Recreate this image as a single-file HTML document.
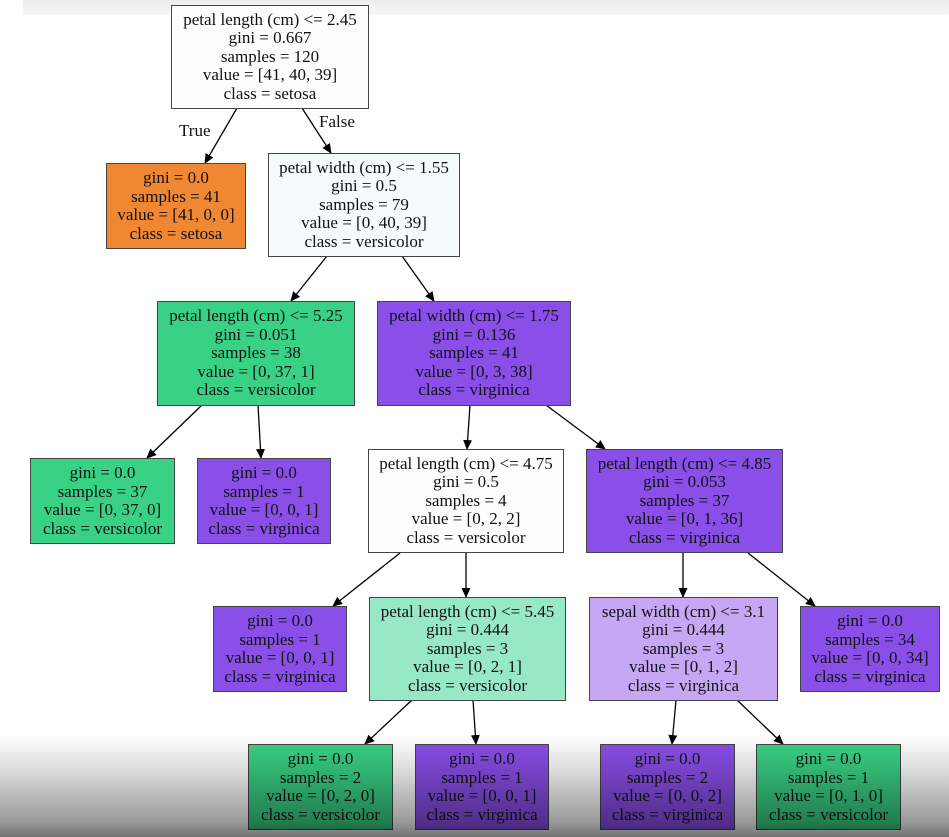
<!DOCTYPE html>
<html><head><meta charset="utf-8"><style>
html,body{margin:0;padding:0;}
body{width:949px;height:837px;position:relative;overflow:hidden;background:#fff;font-family:"Liberation Serif",serif;}
.n{position:absolute;box-sizing:border-box;border:1.5px solid #444;display:flex;justify-content:center;align-items:center;text-align:center;font-size:17px;line-height:18.5px;color:#111;white-space:nowrap;}
.w{background:#fdfdfd}.o{background:#ef8733}.g{background:#39d285}.p{background:#8a4ee9}.lg{background:#97e8c4}.lp{background:#c5a7f4}.pw{background:#f5fafb}
.lbl{position:absolute;font-size:17px;color:#111;}
</style></head><body>
<div style="position:absolute;left:23px;top:0;width:926px;height:15px;background:linear-gradient(#ececec,#f7f7f7)"></div>
<svg style="position:absolute;left:0;top:0" width="949" height="837">
<defs><marker id="a" markerWidth="10" markerHeight="10" refX="9" refY="5" orient="auto" markerUnits="userSpaceOnUse"><path d="M0,0.5 L10,5 L0,9.5 z" fill="#000"/></marker></defs>
<g stroke="#000" stroke-width="1.3" marker-end="url(#a)">
<line x1="237" y1="108" x2="205" y2="163"/>
<line x1="302" y1="108" x2="331" y2="153"/>
<line x1="327" y1="256" x2="291" y2="301"/>
<line x1="402" y1="256" x2="434" y2="301"/>
<line x1="202" y1="405" x2="147" y2="458"/>
<line x1="258" y1="405" x2="261" y2="458"/>
<line x1="470" y1="405" x2="467" y2="449"/>
<line x1="546" y1="405" x2="605" y2="449"/>
<line x1="400" y1="553" x2="333" y2="606"/>
<line x1="466" y1="553" x2="466" y2="597"/>
<line x1="683" y1="553" x2="683" y2="597"/>
<line x1="748" y1="553" x2="815" y2="606"/>
<line x1="412" y1="700" x2="365" y2="744"/>
<line x1="473" y1="700" x2="476" y2="744"/>
<line x1="676" y1="700" x2="672" y2="744"/>
<line x1="737" y1="700" x2="783" y2="744"/>
</g></svg>
<div class="lbl" style="left:179px;top:121px">True</div>
<div class="lbl" style="left:319px;top:112px">False</div>

<div class="n w" style="left:171px;top:5px;width:198px;height:104px"><div>petal length (cm) &lt;= 2.45<br>gini = 0.667<br>samples = 120<br>value = [41, 40, 39]<br>class = setosa</div></div>
<div class="n o" style="left:106px;top:163px;width:140px;height:86px"><div>gini = 0.0<br>samples = 41<br>value = [41, 0, 0]<br>class = setosa</div></div>
<div class="n pw" style="left:268px;top:153px;width:192px;height:104px"><div>petal width (cm) &lt;= 1.55<br>gini = 0.5<br>samples = 79<br>value = [0, 40, 39]<br>class = versicolor</div></div>
<div class="n g" style="left:157px;top:301px;width:198px;height:105px"><div>petal length (cm) &lt;= 5.25<br>gini = 0.051<br>samples = 38<br>value = [0, 37, 1]<br>class = versicolor</div></div>
<div class="n p" style="left:377px;top:301px;width:194px;height:105px"><div>petal width (cm) &lt;= 1.75<br>gini = 0.136<br>samples = 41<br>value = [0, 3, 38]<br>class = virginica</div></div>
<div class="n g" style="left:30px;top:458px;width:145px;height:86px"><div>gini = 0.0<br>samples = 37<br>value = [0, 37, 0]<br>class = versicolor</div></div>
<div class="n p" style="left:197px;top:458px;width:134px;height:86px"><div>gini = 0.0<br>samples = 1<br>value = [0, 0, 1]<br>class = virginica</div></div>
<div class="n w" style="left:368px;top:449px;width:196px;height:104px"><div>petal length (cm) &lt;= 4.75<br>gini = 0.5<br>samples = 4<br>value = [0, 2, 2]<br>class = versicolor</div></div>
<div class="n p" style="left:586px;top:449px;width:197px;height:104px"><div>petal length (cm) &lt;= 4.85<br>gini = 0.053<br>samples = 37<br>value = [0, 1, 36]<br>class = virginica</div></div>
<div class="n p" style="left:213px;top:606px;width:134px;height:86px"><div>gini = 0.0<br>samples = 1<br>value = [0, 0, 1]<br>class = virginica</div></div>
<div class="n lg" style="left:369px;top:597px;width:197px;height:104px"><div>petal length (cm) &lt;= 5.45<br>gini = 0.444<br>samples = 3<br>value = [0, 2, 1]<br>class = versicolor</div></div>
<div class="n lp" style="left:589px;top:597px;width:189px;height:104px"><div>sepal width (cm) &lt;= 3.1<br>gini = 0.444<br>samples = 3<br>value = [0, 1, 2]<br>class = virginica</div></div>
<div class="n p" style="left:800px;top:606px;width:140px;height:86px"><div>gini = 0.0<br>samples = 34<br>value = [0, 0, 34]<br>class = virginica</div></div>
<div class="n g" style="left:248px;top:744px;width:145px;height:86px"><div>gini = 0.0<br>samples = 2<br>value = [0, 2, 0]<br>class = versicolor</div></div>
<div class="n p" style="left:415px;top:744px;width:134px;height:86px"><div>gini = 0.0<br>samples = 1<br>value = [0, 0, 1]<br>class = virginica</div></div>
<div class="n p" style="left:600px;top:744px;width:135px;height:86px"><div>gini = 0.0<br>samples = 2<br>value = [0, 0, 2]<br>class = virginica</div></div>
<div class="n g" style="left:756px;top:744px;width:145px;height:86px"><div>gini = 0.0<br>samples = 1<br>value = [0, 1, 0]<br>class = versicolor</div></div>

<div style="position:absolute;left:0;top:735px;width:949px;height:102px;background:linear-gradient(rgba(0,0,0,0),rgba(0,0,0,0.12) 30%,rgba(0,0,0,0.4) 85%,rgba(0,0,0,0.55));pointer-events:none"></div>
</body></html>
